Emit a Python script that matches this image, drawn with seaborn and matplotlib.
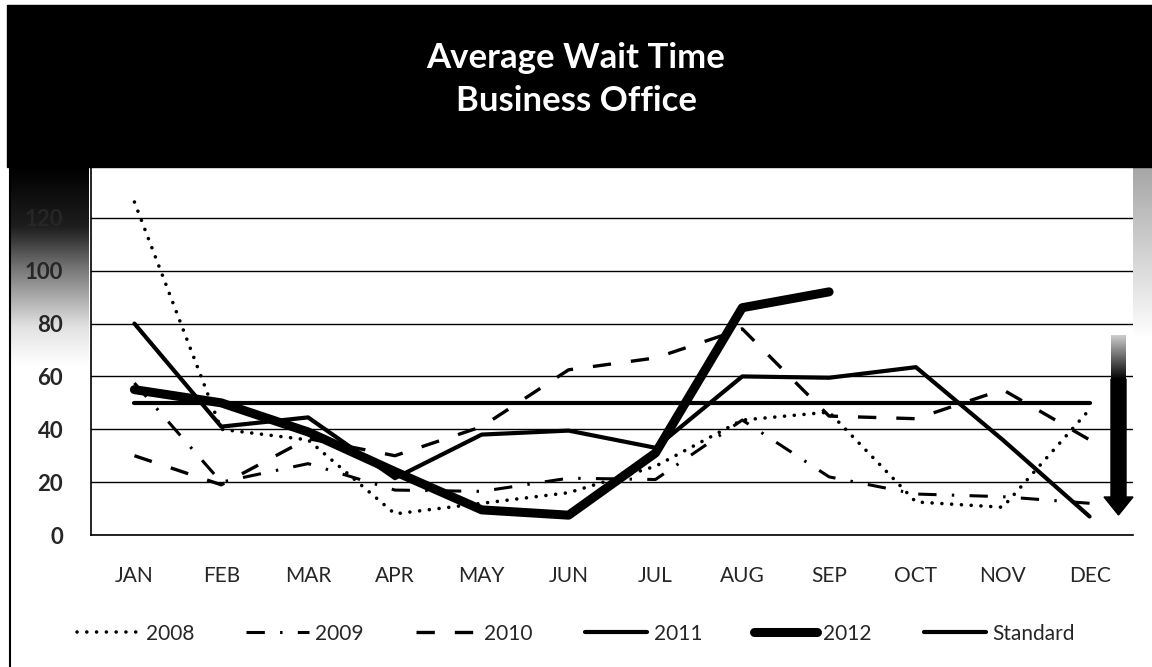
import numpy as np
import pandas as pd
import seaborn as sns
import matplotlib.pyplot as plt
from matplotlib.patches import Rectangle, Polygon
from matplotlib.lines import Line2D

months = ['JAN', 'FEB', 'MAR', 'APR', 'MAY', 'JUN', 'JUL', 'AUG', 'SEP', 'OCT', 'NOV', 'DEC']
y2008 = [126, 40, 36, 8, 12, 16, 26, 43.5, 46.5, 12.5, 10.5, 47.5]
y2009 = [57.5, 20, 27, 17, 16.5, 21.5, 21, 43.5, 22, 15.5, 14.5, 12]
y2010 = [30, 19, 36.5, 30, 41, 62.5, 67, 78, 45, 44, 55, 36]
y2011 = [80, 41, 44.5, 21.5, 38, 39.5, 33, 60, 59.5, 63.5, 36, 7]
y2012 = [55, 50, 39, 24, 9.5, 7.5, 31, 86, 92]
standard = [50, 50, 50, 50, 50, 50, 50, 50, 50, 50, 50, 50]

sns.set_style('white')
plt.rcParams['font.family'] = ['Lato', 'DejaVu Sans']

W, H = 1152, 667
fig = plt.figure(figsize=(W / 100, H / 100), dpi=100)
fig.patch.set_facecolor('white')

# shading from the scan, behind the chart (pixel coords)
back = fig.add_axes([0, 0, 1, 1], zorder=-1)
back.set_xlim(0, W)
back.set_ylim(H, 0)
back.axis('off')
rows = np.linspace(0, 1, 100)
left_shade = np.interp(rows, [0, 0.3, 0.5, 0.8, 1], [0.0, 0.12, 0.45, 0.88, 1.0]).reshape(-1, 1)
back.imshow(left_shade, cmap='gray', vmin=0, vmax=1, aspect='auto',
            extent=[10, 89, 367, 167])
right_shade = np.interp(rows, [0, 1], [0.65, 1.0]).reshape(-1, 1)
back.imshow(right_shade, cmap='gray', vmin=0, vmax=1, aspect='auto',
            extent=[1133, W, 340, 167])

ax = fig.add_axes([91 / W, (H - 535) / H, (1133 - 91) / W, 370 / H])
ax.set_facecolor('white')

series = [
    ('2008', months, y2008, dict(lw=2.6, ls=(0, (0.01, 2.7)), dash_capstyle='round')),
    ('2009', months, y2009, dict(lw=2.2, ls=(0, (6, 5, 0.8, 5)))),
    ('2010', months, y2010, dict(lw=2.4, ls=(0, (5.5, 6)))),
    ('2011', months, y2011, dict(lw=3.0, ls='-')),
    ('2012', months[:len(y2012)], y2012, dict(lw=6.5, ls='-', solid_capstyle='round')),
    ('Standard', months, standard, dict(lw=3.0, ls='-')),
]
for name, xs, ys, kw in series:
    sns.lineplot(x=xs, y=ys, ax=ax, color='black', label=name,
                 solid_joinstyle='round', **kw)

ax.set_xlim(-0.5, 11.5)
ax.set_ylim(0, 140)
ax.set_yticks(range(0, 121, 20))
ax.set_xticks(range(12))
ax.set_xticklabels(months)
ax.set_xticks(np.arange(-0.5, 12, 1), minor=True)
ax.yaxis.grid(True, color='black', lw=1)
ax.set_axisbelow(True)
for s in ['top', 'right']:
    ax.spines[s].set_visible(False)
for s in ['left', 'bottom']:
    ax.spines[s].set_color('black')
    ax.spines[s].set_linewidth(1.2)
ax.tick_params(axis='x', which='major', length=0, pad=22, labelsize=15)
ax.tick_params(axis='x', which='minor', length=5, width=1, color='black', direction='out')
ax.tick_params(axis='y', length=6, width=1, color='black', pad=14, labelsize=16)
for t in ax.get_yticklabels():
    t.set_fontweight('bold')
ax.set_xlabel('')
ax.set_ylabel('')

ax.legend(loc='center', bbox_to_anchor=(0.5, 0.05), bbox_transform=fig.transFigure,
          ncol=6, frameon=False, fontsize=15, handlelength=3.0,
          handletextpad=0.3, columnspacing=2.5)

# header band, title, arrow (pixel coords, on top)
front = fig.add_axes([0, 0, 1, 1], zorder=5)
front.set_xlim(0, W)
front.set_ylim(H, 0)
front.axis('off')
front.add_patch(Rectangle((7, 5), W - 7, 162, color='black'))
front.text(576, 58, 'Average Wait Time', color='white', fontsize=25,
           fontweight='bold', ha='center', va='center')
front.text(576, 101, 'Business Office', color='white', fontsize=25,
           fontweight='bold', ha='center', va='center')
front.add_line(Line2D([10, 10], [167, H], color='black', lw=1.5))

shaft = np.interp(np.linspace(0, 1, 50), [0, 1], [0.8, 0.0]).reshape(-1, 1)
front.imshow(shaft, cmap='gray', vmin=0, vmax=1, aspect='auto',
             extent=[1111, 1126, 380, 335])
front.add_patch(Polygon([[1111, 379], [1126, 379], [1126, 497], [1133, 497],
                         [1118.5, 515], [1104, 497], [1111, 497]], color='black'))
front.set_xlim(0, W)
front.set_ylim(H, 0)

fig.savefig('out.png', dpi=100)
